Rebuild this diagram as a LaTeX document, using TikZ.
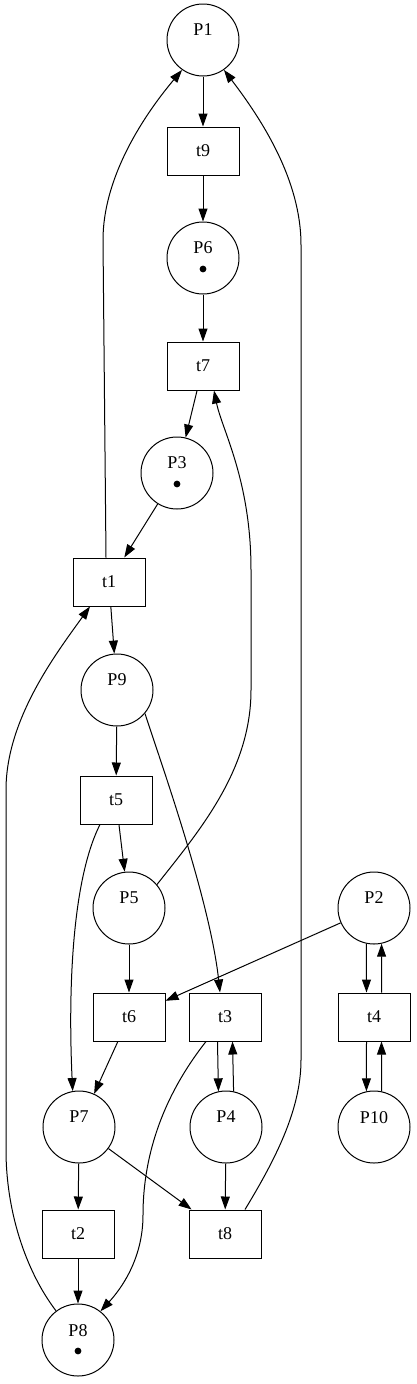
\documentclass[tikz,border=0pt]{standalone}
\usepackage{fontspec}
\setmainfont{Liberation Serif}
\usetikzlibrary{arrows.meta}
\begin{document}
\begin{tikzpicture}[x=1pt,y=-1pt,
  every node/.style={font=\fontsize{18}{20}\selectfont},
  place/.style={circle,draw,line width=1pt,minimum size=72pt,inner sep=0pt,align=center},
  trans/.style={rectangle,draw,line width=1pt,minimum width=72pt,minimum height=48pt,inner sep=0pt},
  token/.style={fill=black},
  arr/.style={line width=1pt,-{Triangle[length=13pt,width=9pt]}}]
\useasboundingbox (0,0) rectangle (416,1384);
% places
\node[place] (P1) at (203,40) {P1\\\vphantom{•}};
\node[place] (P6) at (203,258) {P6\\\vphantom{•}};
\node[place] (P3) at (177,473) {P3\\\vphantom{•}};
\node[place] (P9) at (117,690) {P9\\\vphantom{•}};
\node[place] (P5) at (129,908) {P5\\\vphantom{•}};
\node[place] (P2) at (374,908) {P2\\\vphantom{•}};
\node[place] (P7) at (79,1127) {P7\\\vphantom{•}};
\node[place] (P4) at (226,1127) {P4\\\vphantom{•}};
\node[place] (P10) at (374,1127) {P10\\\vphantom{•}};
\node[place] (P8) at (78,1340) {P8\\\vphantom{•}};
% tokens
\fill[token] ([yshift=-11pt]P6.center) circle (3.4pt);
\fill[token] ([yshift=-11pt]P3.center) circle (3.4pt);
\fill[token] ([yshift=-11pt]P8.center) circle (3.4pt);
% transitions
\node[trans] (t9) at (203,151) {t9};
\node[trans] (t7) at (203,366) {t7};
\node[trans] (t1) at (109,582) {t1};
\node[trans] (t5) at (116,800) {t5};
\node[trans] (t6) at (129,1017) {t6};
\node[trans] (t3) at (225,1017) {t3};
\node[trans] (t4) at (374,1017) {t4};
\node[trans] (t2) at (78,1234) {t2};
\node[trans] (t8) at (225,1234) {t8};
% straight arcs
\draw[arr] (P1) -- (t9);
\draw[arr] (t9) -- (P6);
\draw[arr] (P6) -- (t7);
\draw[arr] (t7) -- (P3);
\draw[arr] (P3) -- (t1);
\draw[arr] (t1) -- (P9);
\draw[arr] (P9) -- (t5);
\draw[arr] (t5) -- (P5);
\draw[arr] (P5) -- (t6);
\draw[arr] (P2) -- (t6);
\draw[arr] (t6) -- (P7);
\draw[arr] (P7) -- (t2);
\draw[arr] (t2) -- (P8);
\draw[arr] (P7) -- (t8);
\draw[arr] (P4) -- (t8);
% double arcs
\draw[arr] (P2.258) -- ([xshift=-7.5pt]t4.north);
\draw[arr] ([xshift=7.5pt]t4.north) -- (P2.282);
\draw[arr] ([xshift=-7.5pt]t4.south) -- (P10.102);
\draw[arr] (P10.78) -- ([xshift=7.5pt]t4.south);
\draw[arr] ([xshift=-7.5pt]t3.south) -- (P4.102);
\draw[arr] (P4.78) -- ([xshift=7.5pt]t3.south);
% curved arcs
\draw[arr] ([xshift=-3pt]t1.north) -- (103,240) .. controls (103,180) and (140,120) .. (P1.235);
\draw[arr] ([xshift=20pt]t8.north) .. controls (275,1160) and (301,1110) .. (301,1060) -- (301,245) .. controls (301,180) and (262,120) .. (P1.305);
\draw[arr] (P5.40) .. controls (200,830) and (251,770) .. (251,690) -- (251,570) .. controls (251,480) and (222,430) .. ([xshift=11pt]t7.south);
\draw[arr] (P9.-40) .. controls (160,760) and (210,900) .. ([xshift=-5pt]t3.north);
\draw[arr] ([xshift=-16pt]t5.south) .. controls (72,880) and (68,990) .. (P7.100);
\draw[arr] ([xshift=-19pt]t3.south) .. controls (160,1100) and (143,1160) .. (143,1215) .. controls (143,1260) and (120,1290) .. (P8.52);
\draw[arr] (P8.127) .. controls (25,1270) and (6,1210) .. (6,1150) -- (6,790) .. controls (6,720) and (55,655) .. ([xshift=-19pt]t1.south);
\end{tikzpicture}
\end{document}
